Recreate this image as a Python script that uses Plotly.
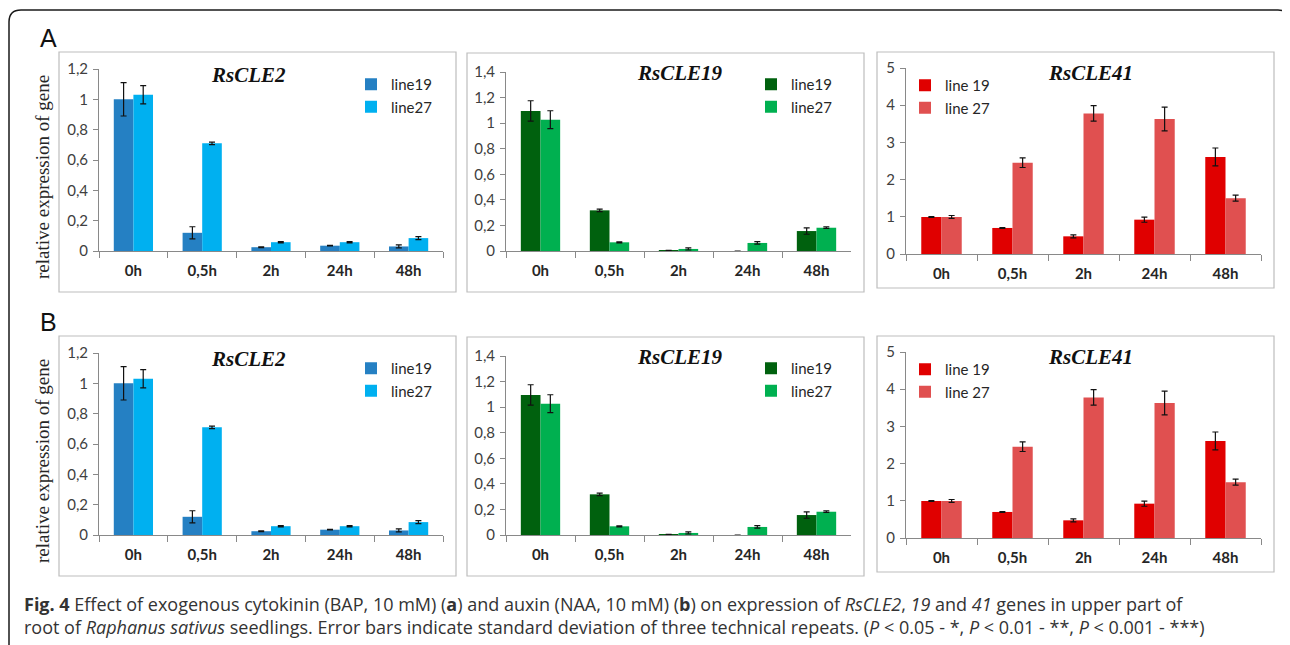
import plotly.graph_objects as go

# ---------------- data ----------------
categories = ["0h", "0,5h", "2h", "24h", "48h"]

cle2_line19 = [1.00, 0.12, 0.025, 0.035, 0.03]
cle2_line19_sd = [0.11, 0.04, 0.003, 0.002, 0.01]
cle2_line27 = [1.03, 0.71, 0.058, 0.058, 0.085]
cle2_line27_sd = [0.06, 0.008, 0.004, 0.004, 0.01]

cle19_line19 = [1.095, 0.318, 0.003, 0.0, 0.156]
cle19_line19_sd = [0.08, 0.01, 0.002, 0.0, 0.025]
cle19_line27 = [1.027, 0.068, 0.016, 0.063, 0.182]
cle19_line27_sd = [0.07, 0.004, 0.008, 0.01, 0.006]

cle41_line19 = [0.995, 0.70, 0.475, 0.923, 2.61]
cle41_line19_sd = [0.01, 0.01, 0.04, 0.07, 0.24]
cle41_line27 = [0.995, 2.455, 3.78, 3.63, 1.50]
cle41_line27_sd = [0.04, 0.13, 0.21, 0.32, 0.08]

gene_titles = ["RsCLE2", "RsCLE19", "RsCLE41"]
legend_names = [["line19", "line27"], ["line19", "line27"], ["line 19", "line 27"]]
y_ranges = [1.2, 1.4, 5]
y_dticks = [0.2, 0.2, 1]
panel_labels = ["A", "B"]

# ---------------- styles ----------------
W, H = 1290, 645
OFF = 8  # page body margin: figure is drawn starting at (8, 8) in the window
colors = [["#2580C3", "#00B0F0"], ["#00610E", "#00B050"], ["#E00000", "#E05050"]]
series = [
    [(cle2_line19, cle2_line19_sd), (cle2_line27, cle2_line27_sd)],
    [(cle19_line19, cle19_line19_sd), (cle19_line27, cle19_line27_sd)],
    [(cle41_line19, cle41_line19_sd), (cle41_line27, cle41_line27_sd)],
]

def px(x):
    return (x - OFF) / W

def py(y):
    return 1 - (y - OFF) / H

# plot-area pixel geometry (window pixels) for row A (row B is shifted by ROW_DY)
ROW_DY = 284
plot_x = [(99, 443), (506, 851), (906, 1261)]
plot_y = [(69, 251), (72, 251), (68, 254)]
box_x = [(59, 456), (467, 864), (877, 1274)]
box_y = [(52, 292), (53, 292), (52, 288)]
title_pos = [(248, 75), (680, 73), (1090, 73)]
legend_pos = [(351, 68), (751, 68), (905, 69)]

fig = go.Figure()
layout = {}
annotations = []
shapes = []

axis_line = "#898989"
tick_font = dict(family="Lato, Carlito, Calibri, sans-serif", size=15, color="#404040")

for r in range(2):
    for c in range(3):
        idx = r * 3 + c + 1
        xa = "x" if idx == 1 else f"x{idx}"
        ya = "y" if idx == 1 else f"y{idx}"
        lg = "legend" if idx == 1 else f"legend{idx}"
        dy = r * ROW_DY
        for s in range(2):
            vals, sd = series[c][s]
            fig.add_trace(go.Bar(
                x=categories, y=vals,
                name=legend_names[c][s],
                marker=dict(color=colors[c][s], line=dict(width=0)),
                error_y=dict(type="data", array=sd, visible=True,
                             color="#111111", thickness=1.2, width=3),
                xaxis=xa, yaxis=ya, legend=lg,
                offsetgroup=str(s),
            ))
        xkey = "xaxis" if idx == 1 else f"xaxis{idx}"
        ykey = "yaxis" if idx == 1 else f"yaxis{idx}"
        layout[xkey] = dict(
            domain=[px(plot_x[c][0]), px(plot_x[c][1])],
            anchor=ya, type="category",
            showline=True, linecolor=axis_line, linewidth=1,
            ticks="outside", tickson="boundaries", ticklen=6,
            tickcolor=axis_line, showgrid=False, zeroline=False,
            tickfont=dict(family="Lato, Carlito, Calibri, sans-serif", size=15,
                          color="#262626", weight="bold"),
            ticklabelstandoff=6,
            automargin=False,
            fixedrange=True,
        )
        layout[ykey] = dict(
            domain=[py(plot_y[c][1] + dy), py(plot_y[c][0] + dy)],
            anchor=xa, range=[0, y_ranges[c]], dtick=y_dticks[c], tick0=0,
            showline=True, linecolor=axis_line, linewidth=1,
            ticks="outside", ticklen=5, tickcolor=axis_line,
            showgrid=False, zeroline=False, tickfont=tick_font,
            ticklabelstandoff=2,
            automargin=False,
            fixedrange=True,
        )
        layout[lg] = dict(
            x=px(legend_pos[c][0]), y=py(legend_pos[c][1] + dy),
            xanchor="left", yanchor="top",
            bgcolor="rgba(0,0,0,0)",
            font=dict(family="Lato, Carlito, Calibri, sans-serif", size=15, color="#262626"),
            tracegroupgap=0, itemwidth=30,
        )
        # chart-area border
        shapes.append(dict(
            type="rect", xref="paper", yref="paper",
            x0=px(box_x[c][0]), x1=px(box_x[c][1]),
            y0=py(box_y[c][1] + dy), y1=py(box_y[c][0] + dy),
            line=dict(color="#BDBDBD", width=1.2), fillcolor="rgba(0,0,0,0)",
            layer="below",
        ))
        annotations.append(dict(
            text=f"<b><i>{gene_titles[c]}</i></b>", xref="paper", yref="paper",
            x=px(title_pos[c][0]), y=py(title_pos[c][1] + dy),
            xanchor="center", yanchor="middle", showarrow=False,
            font=dict(family="Liberation Serif, Times New Roman, serif", size=21, color="#111111"),
        ))
    # row label and y-axis title
    annotations.append(dict(
        text=panel_labels[r], xref="paper", yref="paper",
        x=px(48), y=py(38 + r * ROW_DY), xanchor="center", yanchor="middle",
        showarrow=False,
        font=dict(family="Liberation Sans, Arial, sans-serif", size=25, color="#111111"),
    ))
    annotations.append(dict(
        text="relative expression of gene", xref="paper", yref="paper",
        x=px(42), y=py(177 + r * ROW_DY), xanchor="center", yanchor="middle",
        textangle=-90, showarrow=False,
        font=dict(family="Liberation Serif, Times New Roman, serif", size=19, color="#262626"),
    ))

# caption
cap_font = dict(family="Open Sans, Noto Sans, sans-serif", size=18, color="#333333")
annotations.append(dict(
    text=("<b>Fig. 4</b> Effect of exogenous cytokinin (BAP, 10 mM) (<b>a</b>) and auxin "
          "(NAA, 10 mM) (<b>b</b>) on expression of <i>RsCLE2</i>, <i>19</i> and <i>41</i> "
          "genes in upper part of"),
    xref="paper", yref="paper", x=px(22), y=py(604), xanchor="left", yanchor="middle",
    showarrow=False, font=cap_font,
))
annotations.append(dict(
    text=("root of <i>Raphanus sativus</i> seedlings. Error bars indicate standard deviation "
          "of three technical repeats. (<i>P</i> &lt; 0.05 - *, <i>P</i> &lt; 0.01 - **, "
          "<i>P</i> &lt; 0.001 - ***)"),
    xref="paper", yref="paper", x=px(22), y=py(627), xanchor="left", yanchor="middle",
    showarrow=False, font=cap_font,
))

# outer rounded border (bottom edge runs off the picture, as in the source)
x0, x1, y0, y1, rr = 9, 1290, 10, 660, 12
path = (f"M {px(x0 + rr)} {py(y0)} L {px(x1 - rr)} {py(y0)} "
        f"Q {px(x1)} {py(y0)} {px(x1)} {py(y0 + rr)} "
        f"L {px(x1)} {py(y1 - rr)} Q {px(x1)} {py(y1)} {px(x1 - rr)} {py(y1)} "
        f"L {px(x0 + rr)} {py(y1)} Q {px(x0)} {py(y1)} {px(x0)} {py(y1 - rr)} "
        f"L {px(x0)} {py(y0 + rr)} Q {px(x0)} {py(y0)} {px(x0 + rr)} {py(y0)} Z")
shapes.append(dict(type="path", xref="paper", yref="paper", path=path,
                   line=dict(color="#1a1a1a", width=1.5), layer="below"))

fig.update_layout(
    width=W, height=H,
    margin=dict(l=0, r=0, t=0, b=0, pad=0, autoexpand=False),
    paper_bgcolor="white", plot_bgcolor="white",
    barmode="group", bargap=0.43, bargroupgap=0,
    separators=", ",
    showlegend=True,
    annotations=annotations, shapes=shapes,
    **layout,
)

fig.write_html("out.html")
